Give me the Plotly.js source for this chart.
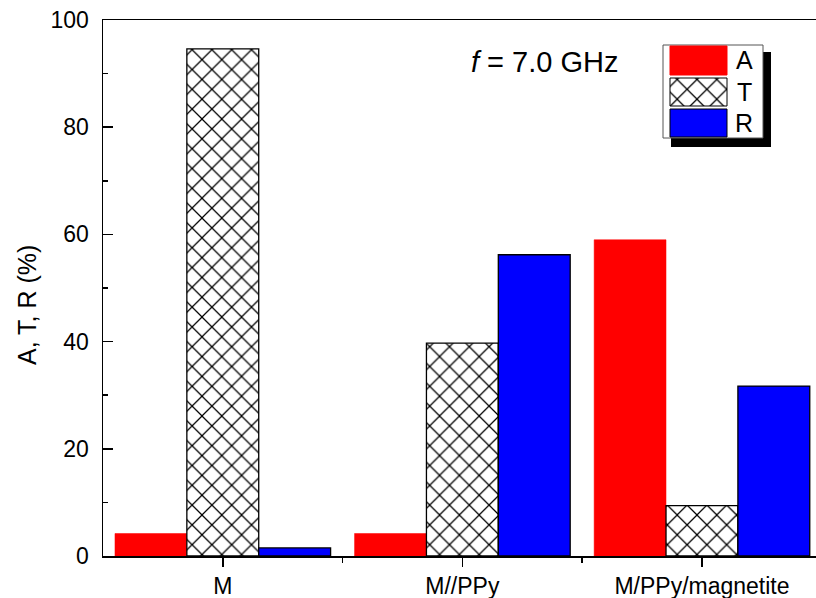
<!DOCTYPE html>
<html>
<head>
<meta charset="utf-8">
<script src="https://cdn.plot.ly/plotly-3.0.1.min.js"></script>
<style>html,body{margin:0;padding:0;overflow:hidden;background:#fff;}</style>
</head>
<body>
<div id="chart" style="width:816px;height:598px;"></div>
<script>
// Data
var categories = ['M', 'M//PPy', 'M/PPy/magnetite'];
var absorption = [4.2, 4.2, 59.0];
var transmission = [94.6, 39.7, 9.4];
var reflection = [1.5, 56.2, 31.7];
var seriesNames = ['A', 'T', 'R'];
var annotationText = '<i>f</i> = 7.0 GHz';
var yTitle = 'A, T, R (%)';

var idx = categories.map(function (_, i) { return i; });
var between = categories.slice(1).map(function (_, i) { return i + 0.5; });

// layout helpers: pixel -> paper / data
var L = 103, T = 20, W = 816, H = 598, R = 0, B = 42;
var PW = W - L - R, PH = H - T - B;
var XR = [-0.5, 2.476], YR = [0, 100];
function px(x) { return (x - L) / PW; }
function py(y) { return (H - B - y) / PH; }
function dx(x) { return XR[0] + px(x) * (XR[1] - XR[0]); }
function dy(y) { return YR[0] + py(y) * (YR[1] - YR[0]); }

var font = 'Liberation Sans, Arial, sans-serif';

var hatch = { shape: 'x', fgcolor: '#000', bgcolor: '#fff', size: 14, solidity: 0.17 };

var traces = [
  { type: 'bar', x: idx, y: absorption, name: seriesNames[0],
    marker: { color: '#ff0000', line: { color: '#ff0000', width: 0.5 } }, showlegend: false },
  { type: 'bar', x: idx, y: transmission, name: seriesNames[1],
    marker: { color: '#fff', pattern: hatch, line: { color: '#000', width: 1.3 } }, showlegend: false },
  { type: 'bar', x: idx, y: reflection, name: seriesNames[2],
    marker: { color: '#0000ff', line: { color: '#000', width: 1.3 } }, showlegend: false }
];

// legend swatches (filled scatter outlines; do not affect bar grouping)
var swatchFill = ['#ff0000', '#fff', '#0000ff'];
var swatchLine = ['#ff0000', '#000', '#000'];
var swatchPattern = [null, hatch, null];
var swatchTop = [46, 78, 109], swatchBot = [75, 106, 137];
seriesNames.forEach(function (n, i) {
  var x0 = dx(670), x1 = dx(727), y0 = dy(swatchBot[i]), y1 = dy(swatchTop[i]);
  var tr = { type: 'scatter', mode: 'lines', x: [x0, x1, x1, x0, x0], y: [y0, y0, y1, y1, y0],
    fill: 'toself', fillcolor: swatchFill[i], line: { color: swatchLine[i], width: 1 },
    showlegend: false, hoverinfo: 'skip' };
  if (swatchPattern[i]) tr.fillpattern = swatchPattern[i];
  traces.push(tr);
});

var shapes = [
  // legend shadow
  { type: 'rect', xref: 'paper', yref: 'paper', x0: px(671), x1: px(771), y0: py(52), y1: py(147),
    fillcolor: '#000', line: { width: 0 }, layer: 'below' },
  // legend box
  { type: 'rect', xref: 'paper', yref: 'paper', x0: px(663), x1: px(763), y0: py(45), y1: py(138),
    fillcolor: '#fff', line: { color: '#555', width: 1 }, layer: 'below' }
];

var annotations = [
  { xref: 'paper', yref: 'paper', x: px(544), y: py(62), text: annotationText, showarrow: false,
    font: { family: font, size: 29, color: '#000' }, xanchor: 'center', yanchor: 'middle' },
  { xref: 'paper', yref: 'paper', x: px(27), y: py(305), text: yTitle, showarrow: false, textangle: -90,
    font: { family: font, size: 25, color: '#000' }, xanchor: 'center', yanchor: 'middle' }
];
var labelY = [60, 92, 123];
seriesNames.forEach(function (n, i) {
  annotations.push({ xref: 'paper', yref: 'paper', x: px(744), y: py(labelY[i]), text: n, showarrow: false,
    font: { family: font, size: 25, color: '#000' }, xanchor: 'center', yanchor: 'middle' });
});

var layout = {
  width: W, height: H,
  margin: { l: L, r: R, t: T, b: B, pad: 0 },
  paper_bgcolor: '#fff', plot_bgcolor: '#fff',
  barmode: 'group', bargap: 0.1, bargroupgap: 0,
  showlegend: false,
  font: { family: font, size: 23, color: '#000' },
  xaxis: {
    range: XR, tickmode: 'array', tickvals: idx, ticktext: categories,
    showline: true, linecolor: '#000', linewidth: 1.5, mirror: true,
    ticks: 'outside', ticklen: 9, tickwidth: 1.5, tickcolor: '#000',
    minor: { tickmode: 'array', tickvals: between, ticks: 'outside', ticklen: 5, tickwidth: 1.5, tickcolor: '#000' },
    showgrid: false, zeroline: false, fixedrange: true,
    tickfont: { family: font, size: 23, color: '#000' }
  },
  yaxis: {
    range: YR, dtick: 20, tick0: 0,
    showline: true, linecolor: '#000', linewidth: 1.5, mirror: false,
    ticks: 'inside', ticklen: 10, tickwidth: 1.5, tickcolor: '#000',
    ticklabelstandoff: 8,
    minor: { dtick: 10, ticks: 'inside', ticklen: 5, tickwidth: 1.5, tickcolor: '#000' },
    showgrid: false, zeroline: false, fixedrange: true,
    tickfont: { family: font, size: 23, color: '#000' }
  },
  shapes: shapes,
  annotations: annotations
};

Plotly.newPlot('chart', traces, layout, { displayModeBar: false, staticPlot: true });
</script>
</body>
</html>
